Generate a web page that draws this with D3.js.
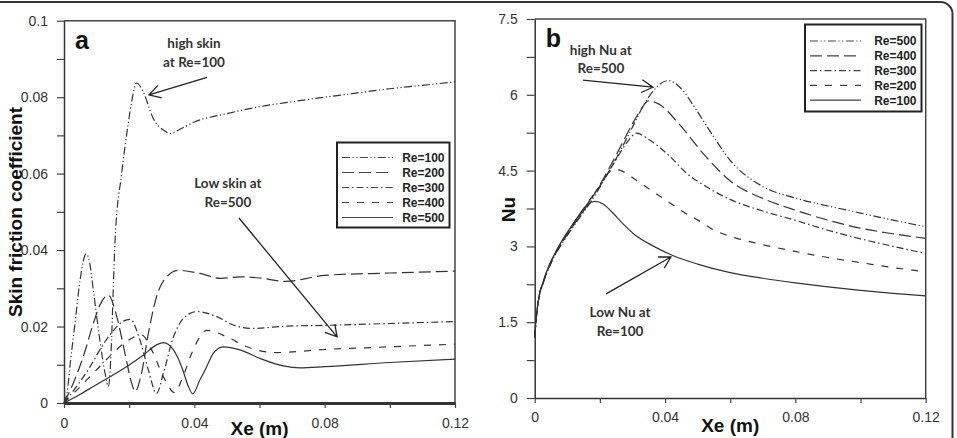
<!DOCTYPE html>
<html>
<head>
<meta charset="utf-8">
<script src="https://cdn.jsdelivr.net/npm/d3@7"></script>
<style>
body { margin: 0; background: #fff; }
svg { display: block; font-family: "Liberation Sans", Arial, sans-serif; }
.tick text { font-size: 14px; fill: #333; }
.note { font-family: Lato, sans-serif; font-weight: bold; font-size: 13.5px; fill: #333; text-anchor: middle; }
.legend text { font-size: 12px; font-weight: bold; fill: #222; text-anchor: end; }
.title { font-weight: bold; font-size: 19px; fill: #111; text-anchor: middle; }
.plabel { font-weight: bold; font-size: 25px; fill: #111; }
</style>
</head>
<body>
<svg id="chart" width="957" height="438"></svg>
<script>
// ---- data ----
var xTicks  = [0, 0.02, 0.04, 0.06, 0.08, 0.1, 0.12];
var xMajor  = [0, 0.04, 0.08, 0.12];
var xLabels = ["0", "0.04", "0.08", "0.12"];

var cfTicks  = [0, 0.01, 0.02, 0.03, 0.04, 0.05, 0.06, 0.07, 0.08, 0.09, 0.1];
var cfMajor  = [0, 0.02, 0.04, 0.06, 0.08, 0.1];
var cfLabels = ["0", "0.02", "0.04", "0.06", "0.08", "0.1"];

var nuTicks  = [0, 0.75, 1.5, 2.25, 3, 3.75, 4.5, 5.25, 6, 6.75, 7.5];
var nuMajor  = [0, 1.5, 3, 4.5, 6, 7.5];
var nuLabels = ["0", "1.5", "3", "4.5", "6", "7.5"];

// panel a : skin friction coefficient
var cfKeys = ["Re=100", "Re=200", "Re=300", "Re=400", "Re=500"];
var cf100 = [[0,0],[0.001,0.003],[0.002,0.011],[0.0034,0.021],[0.0049,0.032],[0.0068,0.039],[0.0078,0.037],[0.009,0.0295],[0.011,0.0165],[0.0126,0.0078],[0.0136,0.0043],[0.0146,0.0165],[0.0151,0.0295],[0.0157,0.043],[0.0177,0.06],[0.0197,0.073],[0.0208,0.079],[0.0223,0.0837],[0.0243,0.0814],[0.0274,0.0744],[0.0305,0.0714],[0.0325,0.0705],[0.036,0.0718],[0.04,0.0735],[0.05,0.0757],[0.06,0.0775],[0.07,0.0788],[0.08,0.08],[0.09,0.0811],[0.1,0.0822],[0.11,0.0831],[0.12,0.084]];
var cf200 = [[0,0],[0.003,0.0055],[0.0059,0.0121],[0.009,0.0208],[0.011,0.0256],[0.0136,0.0282],[0.0162,0.0226],[0.0187,0.013],[0.0208,0.0051],[0.0218,0.003],[0.0238,0.0078],[0.0259,0.0182],[0.0284,0.0278],[0.0315,0.033],[0.0351,0.0347],[0.0417,0.0339],[0.048,0.0326],[0.054,0.033],[0.06,0.0327],[0.068,0.0318],[0.08,0.0334],[0.1,0.034],[0.12,0.0345]];
var cf300 = [[0,0],[0.004,0.0045],[0.008,0.0095],[0.011,0.0139],[0.015,0.0188],[0.0178,0.0212],[0.0203,0.0219],[0.0233,0.0165],[0.0259,0.0086],[0.0284,0.0025],[0.0305,0.0078],[0.0336,0.0173],[0.0366,0.0221],[0.0407,0.0239],[0.0469,0.0226],[0.052,0.0204],[0.058,0.0195],[0.068,0.0201],[0.08,0.0203],[0.1,0.0208],[0.12,0.0213]];
var cf400 = [[0,0],[0.005,0.0043],[0.009,0.0078],[0.014,0.0122],[0.019,0.016],[0.0238,0.0178],[0.0269,0.0139],[0.0305,0.0069],[0.034,0.0027],[0.0361,0.006],[0.0392,0.013],[0.0417,0.0173],[0.0438,0.019],[0.05,0.0173],[0.0561,0.0147],[0.0653,0.0132],[0.08,0.014],[0.1,0.0147],[0.12,0.0154]];
var cf500 = [[0,0],[0.005,0.0023],[0.009,0.0043],[0.014,0.0068],[0.0192,0.0095],[0.0243,0.0125],[0.0284,0.0152],[0.0305,0.0158],[0.0336,0.0139],[0.0361,0.0095],[0.0382,0.0043],[0.0395,0.0024],[0.0417,0.006],[0.0438,0.0095],[0.0458,0.013],[0.0489,0.0147],[0.054,0.0139],[0.06,0.0117],[0.0673,0.0097],[0.0724,0.0092],[0.08,0.0095],[0.1,0.0106],[0.12,0.0115]];

// panel b : Nusselt number
var nuKeys = ["Re=500", "Re=400", "Re=300", "Re=200", "Re=100"];
var nu500 = [[0,1.2],[0.0005,1.58],[0.0013,1.98],[0.0026,2.27],[0.004,2.52],[0.0057,2.76],[0.0088,3.1],[0.0115,3.36],[0.0139,3.58],[0.017,3.86],[0.021,4.28],[0.026,4.86],[0.03,5.36],[0.0335,5.8],[0.0364,6.08],[0.041,6.28],[0.045,6.12],[0.0491,5.75],[0.0542,5.24],[0.0603,4.68],[0.0696,4.2],[0.0798,3.96],[0.09,3.8],[0.1,3.66],[0.11,3.52],[0.12,3.39]];
var nu400 = [[0,1.2],[0.0005,1.59],[0.0013,1.99],[0.0026,2.28],[0.004,2.53],[0.0057,2.77],[0.0088,3.12],[0.0115,3.38],[0.0139,3.6],[0.017,3.9],[0.021,4.33],[0.026,4.93],[0.03,5.43],[0.0325,5.7],[0.0349,5.88],[0.038,5.82],[0.0446,5.4],[0.0522,4.8],[0.0603,4.28],[0.07,3.95],[0.0798,3.72],[0.09,3.52],[0.1,3.36],[0.11,3.25],[0.12,3.16]];
var nu300 = [[0,1.2],[0.0005,1.6],[0.0013,2.0],[0.0026,2.29],[0.004,2.54],[0.0057,2.78],[0.0088,3.13],[0.0115,3.4],[0.0139,3.62],[0.017,3.92],[0.021,4.3],[0.025,4.72],[0.028,5.03],[0.0313,5.24],[0.0354,5.1],[0.0415,4.78],[0.0466,4.45],[0.0535,4.15],[0.0603,3.92],[0.07,3.7],[0.0798,3.52],[0.09,3.32],[0.1,3.15],[0.11,3.0],[0.12,2.86]];
var nu200 = [[0,1.2],[0.0005,1.6],[0.0013,2.0],[0.0026,2.3],[0.004,2.55],[0.0057,2.79],[0.0088,3.14],[0.0115,3.41],[0.0139,3.64],[0.017,3.93],[0.02,4.2],[0.0225,4.45],[0.0246,4.53],[0.0275,4.47],[0.0303,4.35],[0.0364,4.08],[0.0415,3.86],[0.0461,3.66],[0.0507,3.5],[0.0548,3.33],[0.06,3.2],[0.067,3.08],[0.08,2.9],[0.09,2.78],[0.1,2.68],[0.11,2.58],[0.12,2.5]];
var nu100 = [[0,1.2],[0.0005,1.6],[0.0013,2.0],[0.0026,2.3],[0.004,2.56],[0.0057,2.8],[0.0088,3.16],[0.0115,3.42],[0.0139,3.65],[0.016,3.82],[0.0185,3.89],[0.021,3.84],[0.024,3.66],[0.0275,3.42],[0.0307,3.23],[0.036,3.02],[0.042,2.83],[0.05,2.65],[0.06,2.48],[0.07,2.37],[0.08,2.28],[0.09,2.2],[0.1,2.13],[0.11,2.07],[0.12,2.02]];

// annotations (data units)
var cfNotes  = [{text: ["high skin", "at Re=100"], at: [0.0399, 0.0928]}, {text: ["Low skin at", "Re=500"], at: [0.0503, 0.0562]}];
var cfArrows = [[[0.0439, 0.0852], [0.0261, 0.0806]], [[0.0537, 0.0484], [0.0838, 0.0173]]];
var nuNotes  = [{text: ["high Nu at", "Re=500"], at: [0.0203, 6.79]}, {text: ["Low Nu at", "Re=100"], at: [0.0262, 1.6]}];
var nuArrows = [[[0.0148, 6.29], [0.0363, 6.15]], [[0.0219, 2.06], [0.0418, 2.79]]];

// line styles by legend position
var dashes = ["8,2.5,1.2,2.5,1.2,2.5", "12,5", "7,3,1.5,3", "7,8", null];

var svg = d3.select("#chart");

// outer rounded frame
svg.append("rect").attr("x", -20).attr("y", 2).attr("width", 972.5).attr("height", 480)
    .attr("rx", 12).attr("fill", "none").attr("stroke", "#333").attr("stroke-width", 2);

function labelFor(d, majors, labels) {
    for (var i = 0; i < majors.length; i++) if (Math.abs(majors[i] - d) < 1e-9) return labels[i];
    return "";
}

function panel(cfg) {
    var x = d3.scaleLinear().domain([0, 0.12]).range([cfg.left, cfg.right]);
    var y = d3.scaleLinear().domain([0, cfg.yMax]).range([cfg.bottom, cfg.top]);
    var g = svg.append("g");

    g.append("path").attr("d", "M" + cfg.left + "," + cfg.top + "H" + cfg.right + "V" + cfg.bottom)
        .attr("fill", "none").attr("stroke", "#444").attr("stroke-width", 1.5);

    var xa = g.append("g").attr("transform", "translate(0," + cfg.bottom + ")")
        .call(d3.axisBottom(x).tickValues(xTicks).tickSize(5).tickSizeOuter(0).tickPadding(cfg.xPad)
            .tickFormat(d => labelFor(d, xMajor, xLabels)));
    var ya = g.append("g").attr("transform", "translate(" + cfg.left + ",0)")
        .call(d3.axisLeft(y).tickValues(cfg.ticks).tickSize(cfg.tick).tickSizeOuter(0).tickPadding(9)
            .tickFormat(d => labelFor(d, cfg.major, cfg.labels)));
    xa.select(".domain").attr("stroke", "#333").attr("stroke-width", cfg.xWidth);
    ya.select(".domain").attr("stroke", "#333").attr("stroke-width", 1.5);
    g.selectAll(".tick line").attr("stroke", "#444").attr("stroke-width", 1.2);
    g.selectAll(".tick text").attr("font-family", null).attr("font-size", null);

    var line = d3.line().x(d => x(d[0])).y(d => y(d[1])).curve(d3.curveMonotoneX);
    cfg.series.forEach(function (s, i) {
        g.append("path").attr("d", line(s)).attr("fill", "none")
            .attr("stroke", "#333").attr("stroke-width", 1.2)
            .attr("stroke-dasharray", dashes[i]);
    });

    // legend
    var lg = g.append("g").attr("class", "legend");
    lg.append("rect").attr("x", cfg.leg.x).attr("y", cfg.leg.y).attr("width", cfg.leg.w).attr("height", cfg.leg.h)
        .attr("fill", "#fff").attr("stroke", "#222").attr("stroke-width", 2);
    cfg.keys.forEach(function (k, i) {
        var ry = cfg.leg.y + cfg.leg.row0 + i * cfg.leg.step;
        lg.append("line").attr("x1", cfg.leg.x + 5).attr("x2", cfg.leg.x + 56).attr("y1", ry).attr("y2", ry)
            .attr("stroke", "#444").attr("stroke-width", 1.2).attr("stroke-dasharray", dashes[i]);
        lg.append("text").attr("x", cfg.leg.x + cfg.leg.w - 5).attr("y", ry).attr("dy", "0.36em").text(k);
    });

    // notes and arrows
    cfg.notes.forEach(function (n) {
        n.text.forEach(function (t, j) {
            g.append("text").attr("class", "note").attr("x", x(n.at[0])).attr("y", y(n.at[1]) + j * 18.5).text(t);
        });
    });
    cfg.arrows.forEach(function (a) {
        var x0 = x(a[0][0]), y0 = y(a[0][1]), x1 = x(a[1][0]), y1 = y(a[1][1]);
        var ang = Math.atan2(y0 - y1, x0 - x1), L = 13, h = 0.52;
        g.append("path")
            .attr("d", "M" + x0 + "," + y0 + "L" + x1 + "," + y1 +
                "M" + (x1 + L * Math.cos(ang - h)) + "," + (y1 + L * Math.sin(ang - h)) +
                "L" + x1 + "," + y1 +
                "L" + (x1 + L * Math.cos(ang + h)) + "," + (y1 + L * Math.sin(ang + h)))
            .attr("fill", "none").attr("stroke", "#222").attr("stroke-width", 1.3);
    });

    // titles
    g.append("text").attr("class", "plabel").attr("x", cfg.left + 11).attr("y", cfg.top + 28).text(cfg.tag);
    g.append("text").attr("class", "title").attr("x", (cfg.left + cfg.right) / 2).attr("y", cfg.xTitleY).text("Xe (m)");
    g.append("text").attr("class", "title")
        .attr("transform", "translate(" + cfg.yTitleX + "," + cfg.yTitleY + ") rotate(-90)").text(cfg.yTitle);
}

panel({
    left: 64, right: 455, top: 20.7, bottom: 403, yMax: 0.1,
    ticks: cfTicks, major: cfMajor, labels: cfLabels, tick: 7, xPad: 10, xWidth: 3,
    series: [cf100, cf200, cf300, cf400, cf500], keys: cfKeys,
    leg: {x: 337, y: 142.5, w: 112.5, h: 85, row0: 15, step: 15},
    notes: cfNotes, arrows: cfArrows, tag: "a",
    xTitleY: 435, yTitleX: 21.5, yTitleY: 212, yTitle: "Skin friction coefficient"
});

panel({
    left: 534.7, right: 925.7, top: 19, bottom: 398, yMax: 7.5,
    ticks: nuTicks, major: nuMajor, labels: nuLabels, tick: 8, xPad: 9, xWidth: 1.5,
    series: [nu500, nu400, nu300, nu200, nu100], keys: nuKeys,
    leg: {x: 805, y: 24.5, w: 116.5, h: 87, row0: 16.5, step: 14.8},
    notes: nuNotes, arrows: nuArrows, tag: "b",
    xTitleY: 432, yTitleX: 514.5, yTitleY: 209.5, yTitle: "Nu"
});
</script>
</body>
</html>
